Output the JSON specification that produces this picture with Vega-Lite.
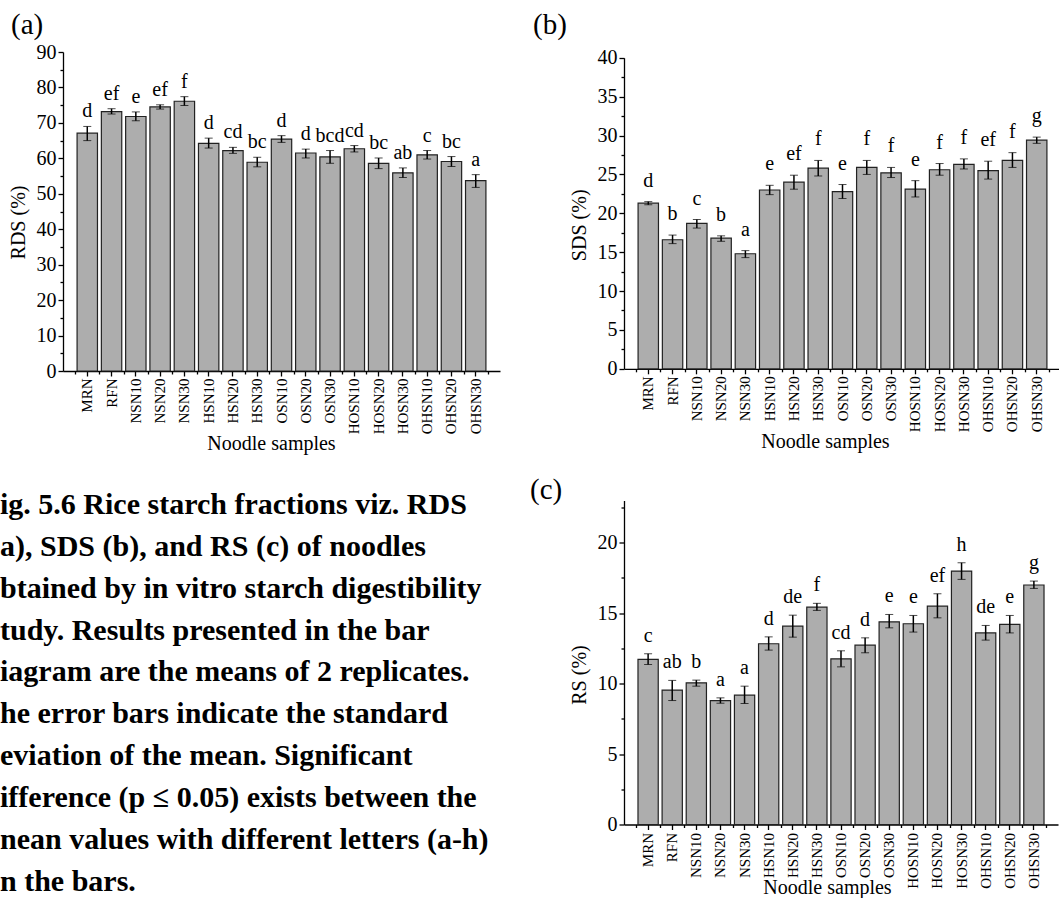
{
  "$schema": "https://vega.github.io/schema/vega-lite/v6.json",
  "background": "white",
  "padding": {"left": 0, "top": 10, "right": 0, "bottom": 0},
  "config": {
    "font": "Liberation Serif",
    "view": {"stroke": null},
    "axis": {"domainColor": "#000", "tickColor": "#000", "labelColor": "#000", "titleColor": "#000", "labelFont": "Liberation Serif", "titleFont": "Liberation Serif", "grid": false, "titleFontWeight": "normal", "domainWidth": 1.3, "tickWidth": 1.3},
    "title": {"font": "Liberation Serif", "fontWeight": "normal", "color": "#000"}
  },
  "datasets": {
    "rds": [
      {"sample": "MRN", "mean": 67.1, "lo": 65.0, "hi": 69.0, "sig": "d"},
      {"sample": "RFN", "mean": 73.2, "lo": 72.5, "hi": 74.0, "sig": "ef"},
      {"sample": "NSN10", "mean": 71.8, "lo": 70.6, "hi": 73.1, "sig": "e"},
      {"sample": "NSN20", "mean": 74.5, "lo": 73.9, "hi": 75.1, "sig": "ef"},
      {"sample": "NSN30", "mean": 76.1, "lo": 74.9, "hi": 77.4, "sig": "f"},
      {"sample": "HSN10", "mean": 64.2, "lo": 62.9, "hi": 65.7, "sig": "d"},
      {"sample": "HSN20", "mean": 62.2, "lo": 61.4, "hi": 63.1, "sig": "cd"},
      {"sample": "HSN30", "mean": 58.9, "lo": 57.6, "hi": 60.3, "sig": "bc"},
      {"sample": "OSN10", "mean": 65.4, "lo": 64.5, "hi": 66.4, "sig": "d"},
      {"sample": "OSN20", "mean": 61.5, "lo": 60.1, "hi": 62.6, "sig": "d"},
      {"sample": "OSN30", "mean": 60.4, "lo": 58.6, "hi": 62.2, "sig": "bcd"},
      {"sample": "HOSN10", "mean": 62.7, "lo": 61.8, "hi": 63.6, "sig": "cd"},
      {"sample": "HOSN20", "mean": 58.6, "lo": 57.1, "hi": 60.1, "sig": "bc"},
      {"sample": "HOSN30", "mean": 55.9, "lo": 54.6, "hi": 57.3, "sig": "ab"},
      {"sample": "OHSN10", "mean": 61.0, "lo": 59.8, "hi": 62.2, "sig": "c"},
      {"sample": "OHSN20", "mean": 59.1, "lo": 57.7, "hi": 60.5, "sig": "bc"},
      {"sample": "OHSN30", "mean": 53.7, "lo": 51.8, "hi": 55.4, "sig": "a"}
    ],
    "sds": [
      {"sample": "MRN", "mean": 21.3, "lo": 21.1, "hi": 21.5, "sig": "d"},
      {"sample": "RFN", "mean": 16.6, "lo": 16.1, "hi": 17.2, "sig": "b"},
      {"sample": "NSN10", "mean": 18.7, "lo": 18.1, "hi": 19.2, "sig": "c"},
      {"sample": "NSN20", "mean": 16.8, "lo": 16.4, "hi": 17.1, "sig": "b"},
      {"sample": "NSN30", "mean": 14.8, "lo": 14.3, "hi": 15.2, "sig": "a"},
      {"sample": "HSN10", "mean": 23.0, "lo": 22.4, "hi": 23.6, "sig": "e"},
      {"sample": "HSN20", "mean": 24.0, "lo": 23.1, "hi": 24.9, "sig": "ef"},
      {"sample": "HSN30", "mean": 25.8, "lo": 24.8, "hi": 26.8, "sig": "f"},
      {"sample": "OSN10", "mean": 22.8, "lo": 21.9, "hi": 23.7, "sig": "e"},
      {"sample": "OSN20", "mean": 25.9, "lo": 25.0, "hi": 26.8, "sig": "f"},
      {"sample": "OSN30", "mean": 25.2, "lo": 24.6, "hi": 25.9, "sig": "f"},
      {"sample": "HOSN10", "mean": 23.1, "lo": 22.1, "hi": 24.2, "sig": "e"},
      {"sample": "HOSN20", "mean": 25.6, "lo": 24.9, "hi": 26.4, "sig": "f"},
      {"sample": "HOSN30", "mean": 26.3, "lo": 25.7, "hi": 27.0, "sig": "f"},
      {"sample": "OHSN10", "mean": 25.5, "lo": 24.4, "hi": 26.7, "sig": "ef"},
      {"sample": "OHSN20", "mean": 26.8, "lo": 25.9, "hi": 27.8, "sig": "f"},
      {"sample": "OHSN30", "mean": 29.4, "lo": 29.0, "hi": 29.8, "sig": "g"}
    ],
    "rs": [
      {"sample": "MRN", "mean": 11.72, "lo": 11.36, "hi": 12.12, "sig": "c"},
      {"sample": "RFN", "mean": 9.54, "lo": 8.8, "hi": 10.23, "sig": "ab"},
      {"sample": "NSN10", "mean": 10.06, "lo": 9.82, "hi": 10.25, "sig": "b"},
      {"sample": "NSN20", "mean": 8.8, "lo": 8.61, "hi": 8.99, "sig": "a"},
      {"sample": "NSN30", "mean": 9.18, "lo": 8.59, "hi": 9.82, "sig": "a"},
      {"sample": "HSN10", "mean": 12.83, "lo": 12.38, "hi": 13.32, "sig": "d"},
      {"sample": "HSN20", "mean": 14.08, "lo": 13.3, "hi": 14.86, "sig": "de"},
      {"sample": "HSN30", "mean": 15.43, "lo": 15.2, "hi": 15.7, "sig": "f"},
      {"sample": "OSN10", "mean": 11.76, "lo": 11.19, "hi": 12.33, "sig": "cd"},
      {"sample": "OSN20", "mean": 12.73, "lo": 12.19, "hi": 13.25, "sig": "d"},
      {"sample": "OSN30", "mean": 14.39, "lo": 13.96, "hi": 14.91, "sig": "e"},
      {"sample": "HOSN10", "mean": 14.25, "lo": 13.66, "hi": 14.84, "sig": "e"},
      {"sample": "HOSN20", "mean": 15.5, "lo": 14.67, "hi": 16.38, "sig": "ef"},
      {"sample": "HOSN30", "mean": 17.99, "lo": 17.4, "hi": 18.58, "sig": "h"},
      {"sample": "OHSN10", "mean": 13.6, "lo": 13.09, "hi": 14.13, "sig": "de"},
      {"sample": "OHSN20", "mean": 14.2, "lo": 13.6, "hi": 14.84, "sig": "e"},
      {"sample": "OHSN30", "mean": 17.0, "lo": 16.76, "hi": 17.28, "sig": "g"}
    ]
  },
  "columns": 2,
  "align": "none",
  "spacing": 30,
  "concat": [
    {
      "columns": 1,
      "align": "none",
      "title": {
        "text": [
          "ig. 5.6 Rice starch fractions viz. RDS",
          "a), SDS (b), and RS (c) of noodles",
          "btained by in vitro starch digestibility",
          "tudy. Results presented in the bar",
          "iagram are the means of 2 replicates.",
          "he error bars indicate the standard",
          "eviation of the mean. Significant",
          "ifference (p ≤ 0.05) exists between the",
          "nean values with different letters (a-h)",
          "n the bars."
        ],
        "orient": "bottom", "anchor": "start", "frame": "bounds", "fontSize": 30, "fontWeight": "bold", "lineHeight": 41.9, "dx": -8, "offset": 36
      },
      "concat": [
        {
          "width": 437,
          "height": 319,
          "data": {"name": "rds"},
          "title": {"text": "(a)", "anchor": "start", "fontSize": 29, "dx": 3, "offset": 2},
          "resolve": {"axis": {"x": "independent", "y": "independent"}},
          "layer": [
            {
              "mark": {"type": "bar", "fill": "#adadad", "stroke": "#222", "strokeWidth": 1.2, "width": {"band": 0.84}},
              "encoding": {
                "x": {"field": "sample", "type": "nominal", "sort": null, "scale": {"paddingInner": 0, "paddingOuter": 0.5},
                  "axis": {"orient": "bottom", "title": "Noodle samples", "labelAngle": -90, "labelFontSize": 15, "tickSize": 5, "labelPadding": 2, "titleFontSize": 20, "titlePadding": 0, "titleX": 208}},
                "y": {"field": "mean", "type": "quantitative", "scale": {"domain": [0, 90], "nice": false},
                  "axis": {"orient": "left", "title": "RDS (%)", "values": [0, 10, 20, 30, 40, 50, 60, 70, 80, 90], "labelFontSize": 20, "titleFontSize": 20, "tickSize": 5, "labelPadding": 2, "titlePadding": 8, "titleY": 170}}
              }
            },
            {
              "mark": {"type": "errorbar", "ticks": {"size": 8, "color": "#000", "strokeWidth": 1.5}, "rule": {"color": "#000", "strokeWidth": 1.5}},
              "encoding": {
                "x": {"field": "sample", "type": "nominal", "sort": null, "scale": {"paddingInner": 0, "paddingOuter": 0.5}, "axis": null},
                "y": {"field": "lo", "type": "quantitative", "scale": {"domain": [0, 90], "nice": false}, "axis": null},
                "y2": {"field": "hi"}
              }
            },
            {
              "mark": {"type": "text", "fontSize": 20, "baseline": "alphabetic", "dy": -9, "color": "#000"},
              "encoding": {
                "x": {"field": "sample", "type": "nominal", "sort": null, "scale": {"paddingInner": 0, "paddingOuter": 0.5},
                  "axis": {"orient": "bottom", "tickBand": "extent", "labels": false, "domain": false, "tickSize": 3, "title": null}},
                "y": {"field": "hi", "type": "quantitative", "scale": {"domain": [0, 90], "nice": false},
                  "axis": {"orient": "left", "values": [5, 15, 25, 35, 45, 55, 65, 75, 85], "labels": false, "domain": false, "tickSize": 3, "title": null}},
                "text": {"field": "sig"}
              }
            }
          ]
        }
      ]
    },
    {
      "columns": 1,
      "align": "none",
      "spacing": 23.5,
      "concat": [
        {
          "width": 437,
          "height": 316.8,
          "data": {"name": "sds"},
          "title": {"text": "(b)", "anchor": "start", "fontSize": 29, "dx": -36, "offset": 8},
          "resolve": {"axis": {"x": "independent", "y": "independent"}},
          "layer": [
            {
              "mark": {"type": "bar", "fill": "#adadad", "stroke": "#222", "strokeWidth": 1.2, "width": {"band": 0.84}},
              "encoding": {
                "x": {"field": "sample", "type": "nominal", "sort": null, "scale": {"paddingInner": 0, "paddingOuter": 0.5},
                  "axis": {"orient": "bottom", "title": "Noodle samples", "labelAngle": -90, "labelFontSize": 15, "tickSize": 5, "labelPadding": 2, "titleFontSize": 20, "titlePadding": 0, "titleX": 201}},
                "y": {"field": "mean", "type": "quantitative", "scale": {"domain": [0, 40], "nice": false, "range": [316.8, 5.8]},
                  "axis": {"orient": "left", "title": "SDS (%)", "values": [0, 5, 10, 15, 20, 25, 30, 35, 40], "labelFontSize": 20, "titleFontSize": 20, "tickSize": 5, "labelPadding": 2, "titlePadding": 8, "titleY": 172.8}}
              }
            },
            {
              "mark": {"type": "errorbar", "ticks": {"size": 8, "color": "#000", "strokeWidth": 1.5}, "rule": {"color": "#000", "strokeWidth": 1.5}},
              "encoding": {
                "x": {"field": "sample", "type": "nominal", "sort": null, "scale": {"paddingInner": 0, "paddingOuter": 0.5}, "axis": null},
                "y": {"field": "lo", "type": "quantitative", "scale": {"domain": [0, 40], "nice": false, "range": [316.8, 5.8]}, "axis": null},
                "y2": {"field": "hi"}
              }
            },
            {
              "mark": {"type": "text", "fontSize": 20, "baseline": "alphabetic", "dy": -15, "color": "#000"},
              "encoding": {
                "x": {"field": "sample", "type": "nominal", "sort": null, "scale": {"paddingInner": 0, "paddingOuter": 0.5},
                  "axis": {"orient": "bottom", "tickBand": "extent", "labels": false, "domain": false, "tickSize": 3, "title": null}},
                "y": {"field": "hi", "type": "quantitative", "scale": {"domain": [0, 40], "nice": false, "range": [316.8, 5.8]},
                  "axis": {"orient": "left", "values": [2.5, 7.5, 12.5, 17.5, 22.5, 27.5, 32.5, 37.5], "labels": false, "domain": false, "tickSize": 3, "title": null}},
                "text": {"field": "sig"}
              }
            }
          ]
        },
        {
          "width": 434,
          "height": 324,
          "data": {"name": "rs"},
          "title": {"text": "(c)", "anchor": "start", "fontSize": 29, "dx": -39, "offset": -4},
          "resolve": {"axis": {"x": "independent", "y": "independent"}},
          "layer": [
            {
              "mark": {"type": "bar", "fill": "#adadad", "stroke": "#222", "strokeWidth": 1.2, "width": {"band": 0.84}},
              "encoding": {
                "x": {"field": "sample", "type": "nominal", "sort": null, "scale": {"paddingInner": 0, "paddingOuter": 0.5},
                  "axis": {"orient": "bottom", "title": "Noodle samples", "labelAngle": -90, "labelFontSize": 15, "tickSize": 5, "labelPadding": 3, "titleFontSize": 20, "titlePadding": -11, "titleX": 203}},
                "y": {"field": "mean", "type": "quantitative", "scale": {"domain": [0, 23], "nice": false},
                  "axis": {"orient": "left", "title": "RS (%)", "values": [0, 5, 10, 15, 20], "labelFontSize": 20, "titleFontSize": 20, "tickSize": 5, "labelPadding": 2, "titlePadding": 8, "titleY": 174}}
              }
            },
            {
              "mark": {"type": "errorbar", "ticks": {"size": 8, "color": "#000", "strokeWidth": 1.5}, "rule": {"color": "#000", "strokeWidth": 1.5}},
              "encoding": {
                "x": {"field": "sample", "type": "nominal", "sort": null, "scale": {"paddingInner": 0, "paddingOuter": 0.5}, "axis": null},
                "y": {"field": "lo", "type": "quantitative", "scale": {"domain": [0, 23], "nice": false}, "axis": null},
                "y2": {"field": "hi"}
              }
            },
            {
              "mark": {"type": "text", "fontSize": 20, "baseline": "alphabetic", "dy": -12, "color": "#000"},
              "encoding": {
                "x": {"field": "sample", "type": "nominal", "sort": null, "scale": {"paddingInner": 0, "paddingOuter": 0.5},
                  "axis": {"orient": "bottom", "tickBand": "extent", "labels": false, "domain": false, "tickSize": 3, "title": null}},
                "y": {"field": "hi", "type": "quantitative", "scale": {"domain": [0, 23], "nice": false},
                  "axis": {"orient": "left", "values": [2.5, 7.5, 12.5, 17.5, 22.5], "labels": false, "domain": false, "tickSize": 3, "title": null}},
                "text": {"field": "sig"}
              }
            }
          ]
        }
      ]
    }
  ]
}
